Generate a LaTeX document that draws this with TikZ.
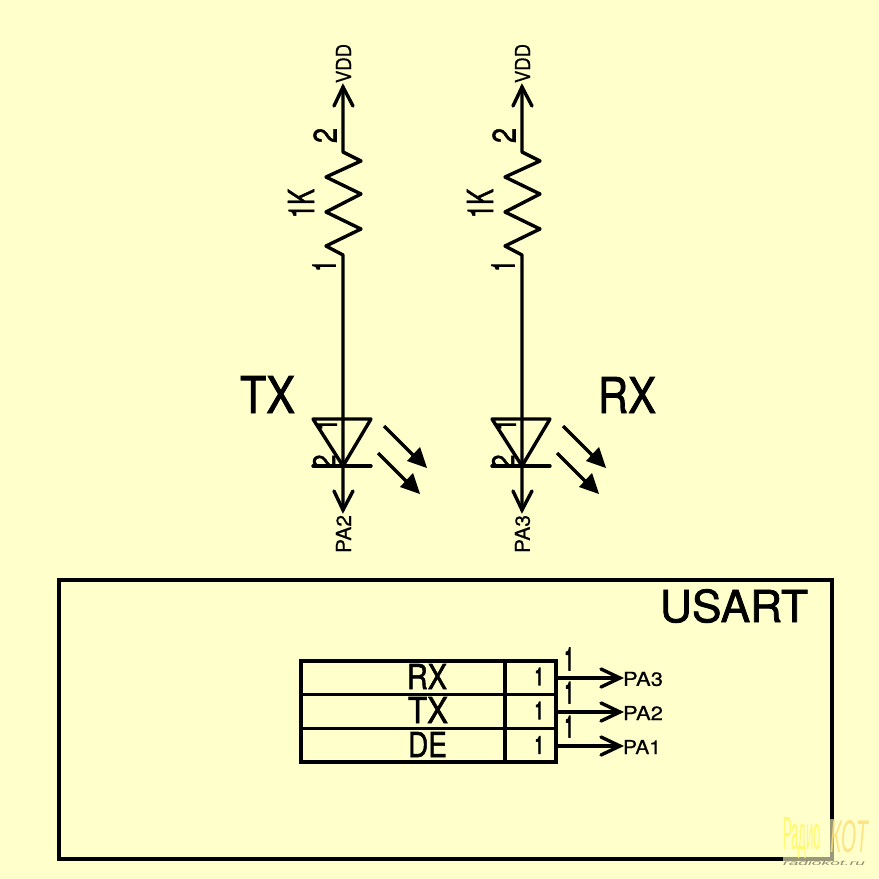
\documentclass[tikz,border=0pt]{standalone}
\usepackage{fontspec}
\setmainfont{TeX Gyre Heros}[FakeBold=1.6,AutoFakeBold=false]
\newfontfamily\wmfont{Liberation Sans}
\newfontfamily\onefont{TeX Gyre Heros}[FakeBold=5]
\newfontfamily\smallfont{TeX Gyre Heros}[FakeBold=0.5]
\usetikzlibrary{arrows.meta}
\definecolor{paper}{HTML}{FFFFCC}
\newcommand{\lbl}[3]{\resizebox{#1pt}{#2pt}{#3}}
\tikzset{
  wire/.style={line width=3.4pt,line cap=round,line join=round},
  openarrow/.style={line width=3.4pt,line cap=round,line join=miter},
  lab/.style={inner sep=0pt,outer sep=0pt,text=black},
  vlab/.style={lab,rotate=90}
}
\begin{document}
\begin{tikzpicture}[x=1pt,y=-1pt]
\path[fill=paper] (0,0) rectangle (879,879);
\useasboundingbox (0,0) rectangle (879,879);

% ---------- one LED column ----------
\foreach \name/\ox/\pin in {tx/0/PA2,rx/179/PA3}{
 \begin{scope}[xshift=\ox pt]
  \coordinate (\name vdd) at (343,87);
  \coordinate (\name rtop) at (343,152);
  \coordinate (\name rbot) at (343,255);
  \coordinate (\name apex) at (343,466);
  \coordinate (\name tip) at (343,510);
  \draw[wire] (\name vdd) -- (\name rtop) -- (361,161) -- (326,177) -- (361,194) -- (326,212) -- (361,229) -- (326,246) -- (\name rbot) -- (\name tip);
  \draw[openarrow] (334,106) -- (\name vdd) -- (353,106);
  \draw[openarrow] (334,491) -- (\name tip) -- (353,491);
  \draw[wire] (313,419) -- (371,419) -- (\name apex) -- cycle;
  \draw[wire] (313,466) -- (371,466);
  % light arrows
  \draw[line width=3.4pt] (384,426) -- (414,456);
  \fill (427,468) -- (407,461) -- (420,447) -- cycle;
  \draw[line width=3.4pt] (378,453) -- (407,482);
  \fill (420,494) -- (400,487) -- (413,473) -- cycle;
  % labels
  \node[vlab] (\name vddl) at (343.5,63.5) {\lbl{39}{15}{\smallfont VDD}};
  \node[vlab] (\name two) at (325,135.5) {\lbl{15}{23}{2}};
  \node[vlab] (\name ohm) at (301,203.5) {\lbl{29}{26}{1K}};
  \node[vlab] (\name one) at (324,266) {\lbl{10}{22}{\onefont 1}};
  \node[vlab] (\name done) at (326,425) {\lbl{10}{21}{\onefont 1}};
  \node[vlab] (\name dtwo) at (324,461.5) {\lbl{14}{22}{2}};
  \node[vlab] (\name pinl) at (343.5,534) {\lbl{38}{15}{\smallfont \pin}};
 \end{scope}
}
\node[lab] (txname) at (267.5,394.5) {\lbl{55}{37}{TX}};
\node[lab] (rxname) at (627,395) {\lbl{58}{36}{RX}};

% ---------- USART block ----------
\node[draw,line width=3.6pt,outer sep=0pt,minimum width=773pt,minimum height=279pt,inner sep=0pt,anchor=north west] (usart) at (59,580) {};
\node[lab] (usartl) at (734,606) {\lbl{148}{33}{USART}};

\node[draw,line width=3.2pt,outer sep=0pt,minimum width=255pt,minimum height=101pt,inner sep=0pt,anchor=north west] (tbl) at (301,661) {};
\coordinate (h1a) at (301,694.5); \coordinate (h1b) at (556,694.5);
\coordinate (h2a) at (301,728.5); \coordinate (h2b) at (556,728.5);
\coordinate (va) at (505,661); \coordinate (vb) at (505,762);
\draw[line width=3.2pt] (h1a) -- (h1b);
\draw[line width=3.2pt] (h2a) -- (h2b);
\draw[line width=3.2pt] (va) -- (vb);

\node[lab] (rrx) at (427,676.5) {\lbl{40}{25}{RX}};
\node[lab] (rtx) at (428,710) {\lbl{40}{26}{TX}};
\node[lab] (rde) at (427.5,744.5) {\lbl{39}{25}{DE}};
\node[lab] (n1) at (539,676.5) {\lbl{9}{17}{\onefont 1}};
\node[lab] (n2) at (539,710.5) {\lbl{9}{17}{\onefont 1}};
\node[lab] (n3) at (539,745) {\lbl{9}{17}{\onefont 1}};

\foreach \k/\y/\t/\ty/\w in {a/678/PA3/679/40,b/712/PA2/713/40,c/746/PA1/747/38}{
  \coordinate (s\k) at (556,\y);
  \coordinate (e\k) at (620,\y);
  \draw[line width=3.2pt] (s\k) -- (e\k);
  \draw[openarrow] (601,\y-9) -- (e\k) -- (601,\y+9);
  \node[lab,anchor=west] (l\k) at (623,\ty) {\lbl{\w}{14}{\smallfont \t}};
}
\node[lab] (p1) at (569,659) {\lbl{9}{22}{\onefont 1}};
\node[lab] (p2) at (569,692.5) {\lbl{9}{21}{\onefont 1}};
\node[lab] (p3) at (569,726.5) {\lbl{9}{21}{\onefont 1}};

% ---------- watermark ----------
\fill[paper,opacity=.6] (783,857) rectangle (834,861.5);
\fill[paper,opacity=.6] (828,819) rectangle (834,857);
\node[lab,text=yellow!45!paper] (wm1) at (802,838) {\lbl{38}{32}{\wmfont Радио}};
\node[lab,text=yellow!45!orange!40!paper,opacity=.85] (wm2) at (849,836.5) {\lbl{38}{32}{\wmfont\itshape КОТ}};
\node[lab,text=black!45!paper] (wm3) at (824,863) {\lbl{82}{5}{\wmfont\itshape radiokot.ru}};
\end{tikzpicture}
\end{document}
